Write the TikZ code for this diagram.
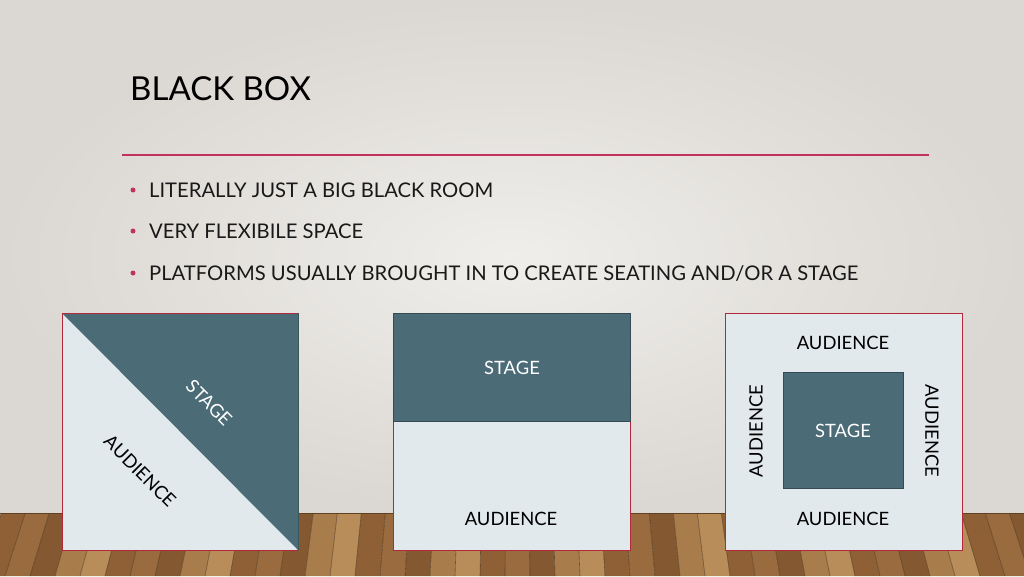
\documentclass[tikz,border=0pt]{standalone}
\usepackage{fontspec}
\setmainfont{Lato}
\definecolor{wallin}{HTML}{EFEEEB}
\definecolor{wallout}{HTML}{DBD7D2}
\definecolor{accent}{HTML}{C3325A}
\definecolor{boxred}{HTML}{B4283C}
\definecolor{stagec}{HTML}{4B6B76}
\definecolor{audc}{HTML}{E2E9EC}
\definecolor{pk0}{HTML}{8F6035}
\definecolor{pk1}{HTML}{A97C4B}
\definecolor{pk2}{HTML}{9A6B3E}
\definecolor{pk3}{HTML}{B88D5A}
\definecolor{pk4}{HTML}{845830}
\begin{document}
\begin{tikzpicture}[x=1pt,y=-1pt,
  titletext/.style={anchor=base west,inner sep=0pt,font=\fontsize{33}{38}\selectfont,text=black},
  bullettext/.style={anchor=base west,inner sep=0pt,font=\fontsize{20.2}{24}\selectfont,text=black!90},
  bulletdot/.style={circle,fill=accent,inner sep=0pt,minimum size=5pt},
  lbl/.style={inner sep=0pt,font=\fontsize{18.4}{21}\selectfont},
  redframe/.style={draw=boxred,line width=1pt},
  plankline/.style={draw=black!60!brown,line width=0.6pt,opacity=0.7}]
\useasboundingbox (0,0) rectangle (1024,576);
% wall
\shade[inner color=wallin,outer color=wallout] (0,0) rectangle (1024,513);
% floor
\foreach \i in {0,...,42}{
  \pgfmathsetmacro\xa{-20+25*\i}
  \pgfmathsetmacro\xb{\xa+25}
  \pgfmathsetmacro\ta{512+(\xa-512)*0.96}
  \pgfmathsetmacro\tb{512+(\xb-512)*0.96}
  \pgfmathtruncatemacro\m{mod(\i*7,5)}
  \fill[pk\m] (\xa,576) -- (\xb,576) -- (\tb,513) -- (\ta,513) -- cycle;
  \draw[plankline] (\xa,576) -- (\ta,513);
}
\draw[black!50!brown,line width=1pt] (0,513) -- (1024,513);
% title
\node[titletext] (title) at (130,100) {BLACK BOX};
\draw[accent,line width=2.5pt] (122,155) -- (929,155);
% bullets
\node[bulletdot] (d1) at (133,190) {};
\node[bullettext] (b1) at (149,197) {LITERALLY JUST A BIG BLACK ROOM};
\node[bulletdot] (d2) at (133,231) {};
\node[bullettext] (b2) at (149,238) {VERY FLEXIBILE SPACE};
\node[bulletdot] (d3) at (133,273) {};
\node[bullettext] (b3) at (149,280) {PLATFORMS USUALLY BROUGHT IN TO CREATE SEATING AND/OR A STAGE};
% box 1
\fill[audc] (62,313) rectangle (298,550);
\fill[stagec] (62,313) -- (298,313) -- (298,550) -- cycle;
\draw[redframe] (298,313) -- (62,313) -- (62,550) -- (298,550);
\draw[stagec!80!black,line width=0.6pt] (298,313) -- (298,550);
\node[lbl,text=white,rotate=-45] (s1) at (209,403) {STAGE};
\node[lbl,text=black,rotate=-45] (a1) at (140,471) {AUDIENCE};
% box 2
\fill[audc] (393,421) rectangle (630,550);
\draw[redframe] (393,421) -- (393,550) -- (630,550) -- (630,421);
\fill[stagec] (393,313) rectangle (630,421);
\draw[stagec!70!black,line width=0.6pt] (393,313) rectangle (630,421);
\node[lbl,text=white] (s2) at (512,368) {STAGE};
\node[lbl,text=black] (a2) at (511,519) {AUDIENCE};
% box 3
\fill[audc] (725,313) rectangle (962,550);
\draw[redframe] (725,313) rectangle (962,550);
\fill[stagec] (783,372) rectangle (903,488);
\draw[stagec!70!black,line width=0.6pt] (783,372) rectangle (903,488);
\node[lbl,text=white] (s3) at (843,431) {STAGE};
\node[lbl,text=black] (a3t) at (843,343) {AUDIENCE};
\node[lbl,text=black] (a3b) at (843,519) {AUDIENCE};
\node[lbl,text=black,rotate=90] (a3l) at (756,431) {AUDIENCE};
\node[lbl,text=black,rotate=-90] (a3r) at (932,431) {AUDIENCE};
\end{tikzpicture}
\end{document}
